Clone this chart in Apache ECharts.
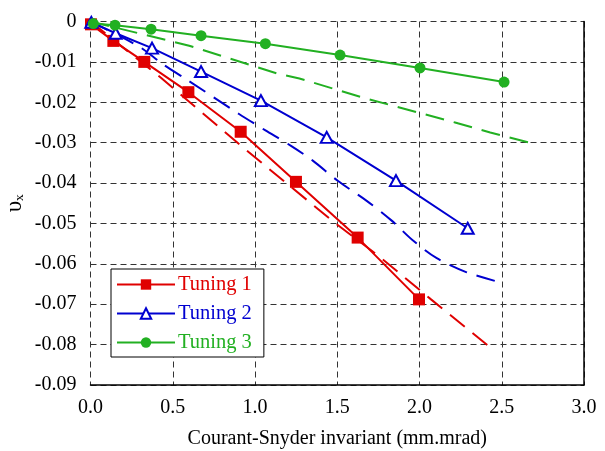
<!DOCTYPE html>
<html>
<head>
<meta charset="utf-8">
<script src="https://cdn.jsdelivr.net/npm/echarts@6/dist/echarts.min.js"></script>
<style>
  html, body { margin: 0; padding: 0; background: #fff; }
  #chart { width: 605px; height: 451px; }
</style>
</head>
<body>
<div id="chart"></div>
<script>
// measured points (markers, solid lines)
var t1X = [0.003, 0.139, 0.327, 0.595, 0.913, 1.249, 1.624, 1.997];
var t1Y = [-0.0007, -0.0048, -0.0100, -0.0175, -0.0273, -0.0397, -0.0535, -0.0688];
var t2X = [0.005, 0.153, 0.374, 0.672, 1.036, 1.436, 1.857, 2.293];
var t2Y = [-0.0002, -0.0029, -0.0066, -0.0124, -0.0196, -0.0287, -0.0394, -0.0512];
var t3X = [0.017, 0.149, 0.368, 0.672, 1.063, 1.517, 2.003, 2.514];
var t3Y = [-0.0005, -0.0009, -0.0019, -0.0035, -0.0055, -0.0083, -0.0115, -0.0150];

// dashed curves (no markers)
var f1X = [0, 0.43, 0.91, 1.19, 1.49, 1.75, 2.07, 2.43];
var f1Y = [0, -0.0140, -0.0306, -0.0400, -0.0500, -0.0580, -0.0688, -0.0807];
var f2X = [0, 0.295, 0.438, 0.59, 0.903, 1.061, 1.219, 1.353, 1.505, 1.679, 1.831, 1.957, 2.105, 2.287, 2.51];
var f2Y = [0, -0.0062, -0.0105, -0.0145, -0.0229, -0.0269, -0.0308, -0.0345, -0.0395, -0.0444, -0.0493, -0.0541, -0.0586, -0.0621, -0.0648];
var f3X = [0, 0.342, 0.60, 1.13, 1.27, 1.67, 2.216, 2.43, 2.66];
var f3Y = [0, -0.0034, -0.0060, -0.0128, -0.0141, -0.0190, -0.0250, -0.0275, -0.0299];

var names = ['Tuning 1', 'Tuning 2', 'Tuning 3'];

var RED = '#e00000';
var BLUE = '#0000d0';
var GREEN = '#22b022';
var FONT = 'Liberation Serif';

function pairs(xs, ys) {
    var out = [];
    for (var i = 0; i < xs.length; i++) {
        out.push([xs[i], ys[i]]);
    }
    return out;
}

var gridLine = { show: true, lineStyle: { color: '#333', width: 1, type: [6, 4] } };

var chart = echarts.init(document.getElementById('chart'));
var option = {
    animation: false,
    backgroundColor: '#fff',
    textStyle: { fontFamily: FONT },
    grid: { left: 90.5, right: 21, top: 21.5, bottom: 66, outerBoundsMode: 'none', containLabel: false },
    legend: {
        orient: 'vertical',
        left: 111,
        top: 269,
        padding: [5, 12, 4, 5],
        itemGap: 8,
        itemWidth: 58,
        itemHeight: 13,
        backgroundColor: '#fff',
        borderColor: '#000',
        borderWidth: 1,
        borderRadius: 0,
        textStyle: { fontFamily: FONT, fontSize: 20.5, padding: [0, 0, 0, -2] },
        data: [
            { name: names[0], textStyle: { color: RED } },
            { name: names[1], textStyle: { color: BLUE } },
            { name: names[2], textStyle: { color: GREEN } }
        ]
    },
    xAxis: {
        type: 'value',
        min: 0,
        max: 3,
        interval: 0.5,
        name: 'Courant-Snyder invariant (mm.mrad)',
        nameLocation: 'middle',
        nameGap: 44,
        nameTextStyle: { fontFamily: FONT, fontSize: 20, color: '#000' },
        axisLine: { show: true, onZero: false, lineStyle: { color: '#000', width: 1.5 } },
        axisTick: { show: false },
        axisLabel: {
            fontFamily: FONT, fontSize: 20, color: '#000', margin: 13,
            formatter: function (v) { return v.toFixed(1); }
        },
        splitLine: gridLine
    },
    yAxis: [{
        type: 'value',
        min: -0.09,
        max: 0,
        interval: 0.01,
        name: 'υₓ',
        nameLocation: 'middle',
        nameGap: 64,
        nameRotate: 90,
        nameMoveOverlap: false,
        nameTextStyle: { fontFamily: FONT, fontSize: 23, color: '#000' },
        axisLine: { show: false },
        axisTick: { show: false },
        axisLabel: {
            fontFamily: FONT, fontSize: 20, color: '#000', margin: 14,
            formatter: function (v) { return Math.abs(v) < 1e-9 ? '0' : v.toFixed(2); }
        },
        splitLine: gridLine
    }, {
        type: 'value',
        position: 'right',
        min: -0.09,
        max: 0,
        interval: 0.01,
        axisLine: { show: true, lineStyle: { color: '#000', width: 1.5 } },
        axisTick: { show: false },
        axisLabel: { show: false },
        splitLine: { show: false }
    }],
    series: [
        {
            name: names[0] + ' dashed', type: 'line', data: pairs(f1X, f1Y),
            showSymbol: false, symbol: 'none', z: 1, silent: true,
            lineStyle: { color: RED, width: 2, type: [19, 10] }
        },
        {
            name: names[1] + ' dashed', type: 'line', data: pairs(f2X, f2Y),
            showSymbol: false, symbol: 'none', z: 1, silent: true, smooth: 0.3,
            lineStyle: { color: BLUE, width: 2, type: [19, 10] }
        },
        {
            name: names[2] + ' dashed', type: 'line', data: pairs(f3X, f3Y),
            showSymbol: false, symbol: 'none', z: 1, silent: true,
            lineStyle: { color: GREEN, width: 2, type: [19, 10] }
        },
        {
            name: names[0], type: 'line', data: pairs(t1X, t1Y),
            symbol: 'rect', symbolSize: 12, z: 3,
            itemStyle: { color: RED },
            lineStyle: { color: RED, width: 2 }
        },
        {
            name: names[1], type: 'line', data: pairs(t2X, t2Y),
            symbol: 'triangle', symbolSize: [12, 11], z: 3,
            itemStyle: { color: '#fff', borderColor: BLUE, borderWidth: 2 },
            lineStyle: { color: BLUE, width: 2 }
        },
        {
            name: names[2], type: 'line', data: pairs(t3X, t3Y),
            symbol: 'circle', symbolSize: 11, z: 3,
            itemStyle: { color: GREEN },
            lineStyle: { color: GREEN, width: 2 }
        }
    ]
};
chart.setOption(option);
</script>
</body>
</html>
